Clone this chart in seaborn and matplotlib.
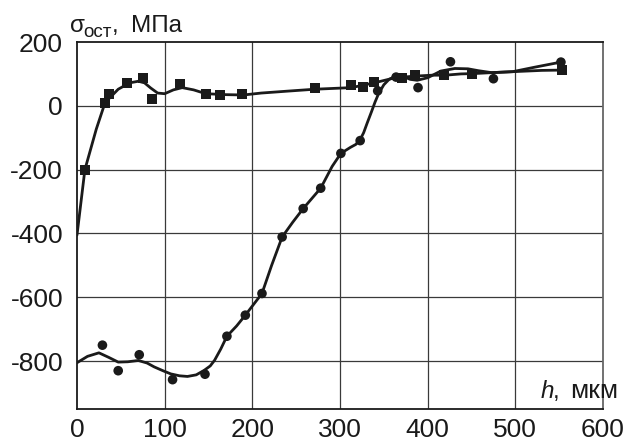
import matplotlib
matplotlib.use("Agg")
import matplotlib.pyplot as plt
import seaborn as sns
import pandas as pd

# measured points (squares)
sq_h = [9, 32, 37, 57, 75, 86, 118, 147, 163, 188, 271, 312, 326, 339, 371, 385, 419, 451, 553]
sq_s = [-200, 10, 38, 70, 88, 20, 69, 38, 35, 36, 57, 64, 60, 76, 86, 96, 96, 101, 112]

# measured points (circles)
ci_h = [29, 47, 71, 109, 146, 171, 192, 211, 234, 258, 278, 301, 323, 343, 364, 389, 426, 475, 552]
ci_s = [-750, -830, -780, -858, -841, -722, -656, -588, -411, -322, -258, -149, -109, 47, 90, 57, 138, 85, 137]

# smoothed curves
sq_line_h = [0, 9, 22, 32, 47, 60, 70, 77, 84, 92, 100, 110, 120, 133, 147, 170, 190,
             210, 240, 271, 313, 339, 363, 385, 405, 420, 438, 452, 473, 497, 530, 553]
sq_line_s = [-405, -200, -73, 10, 52, 72, 77, 72, 56, 40, 38, 50, 57, 50, 38, 35, 34,
             40, 46, 52, 57, 72, 88, 93, 96, 96, 100, 101, 104, 107, 111, 112]

ci_line_h = [0, 12, 25, 36, 47, 58, 70, 80, 88, 98, 107, 117, 126, 136, 145, 152, 157, 164,
             171, 182, 192, 211, 222, 234, 246, 258, 268, 278, 291, 301, 312, 318, 323, 327,
             331, 336, 340, 344, 350, 356, 362, 368, 374, 380, 388, 400, 415, 431, 446, 458,
             473, 497, 522, 552]
ci_line_s = [-805, -785, -774, -788, -803, -802, -798, -806, -818, -830, -840, -846, -848, -843,
             -829, -815, -797, -762, -722, -690, -656, -588, -500, -411, -365, -322, -290, -258,
             -190, -149, -130, -121, -106, -84, -54, -18, 12, 38, 66, 83, 91, 93, 90, 83, 80,
             88, 109, 117, 116, 110, 104, 107, 121, 137]

x_ticks = [0, 100, 200, 300, 400, 500, 600]
y_ticks = [200, 0, -200, -400, -600, -800]

sns.set_style("white")
plt.rcParams['font.family'] = ['Liberation Sans', 'DejaVu Sans']
plt.rcParams['axes.unicode_minus'] = False

INK = '#1a1a1a'
W, H = 627, 443
fig = plt.figure(figsize=(W / 100, H / 100), dpi=100)
ax = fig.add_axes([77 / W, 1 - 409 / H, (603 - 77) / W, (409 - 42) / H])

pts_sq = pd.DataFrame({"h": sq_h, "s": sq_s})
pts_ci = pd.DataFrame({"h": ci_h, "s": ci_s})
ln_sq = pd.DataFrame({"h": sq_line_h, "s": sq_line_s})
ln_ci = pd.DataFrame({"h": ci_line_h, "s": ci_line_s})

for x in x_ticks[1:-1]:
    ax.axvline(x, color='#3a3a3a', lw=0.9, zorder=1)
for y in y_ticks[1:]:
    ax.axhline(y, color='#3a3a3a', lw=0.9, zorder=1)

sns.lineplot(data=ln_sq, x="h", y="s", sort=False, color=INK, lw=2.0, ax=ax, zorder=3)
sns.lineplot(data=ln_ci, x="h", y="s", sort=False, color=INK, lw=2.0, ax=ax, zorder=3)
sns.scatterplot(data=pts_sq, x="h", y="s", marker='s', s=52, color=INK,
                edgecolor='none', ax=ax, zorder=4)
sns.scatterplot(data=pts_ci, x="h", y="s", marker='o', s=48, color=INK,
                edgecolor='none', ax=ax, zorder=4)

ax.set_xlim(0, 600)
ax.set_ylim(-950, 200)
ax.set_xticks(x_ticks)
ax.set_yticks(y_ticks)
ax.set_xlabel("")
ax.set_ylabel("")
ax.tick_params(length=0, labelsize=19, colors=INK)
ax.tick_params(axis='y', pad=10)
ax.tick_params(axis='x', pad=6.5)
for sp in ax.spines.values():
    sp.set_color(INK)
    sp.set_linewidth(1.3)
    sp.set_visible(True)
ax.spines['right'].set_color('#666666')

# axis titles
fig.text(70 / W, 1 - 32 / H, "σ", fontsize=17.5, color=INK, ha='left', va='baseline')
fig.text(83 / W, 1 - 37 / H, "ост", fontsize=13.5, color=INK, ha='left', va='baseline')
fig.text(112 / W, 1 - 32 / H, ",", fontsize=17.5, color=INK, ha='left', va='baseline')
fig.text(131 / W, 1 - 32 / H, "МПа", fontsize=17.5, color=INK, ha='left', va='baseline')

fig.text(541 / W, 1 - 398 / H, "h", fontsize=17.5, style='italic', color=INK,
         ha='left', va='baseline')
fig.text(553 / W, 1 - 398 / H, ",", fontsize=17.5, color=INK, ha='left', va='baseline')
fig.text(570 / W, 1 - 398 / H, "мкм", fontsize=19, color=INK, ha='left', va='baseline')

fig.savefig("out.png", dpi=100)
